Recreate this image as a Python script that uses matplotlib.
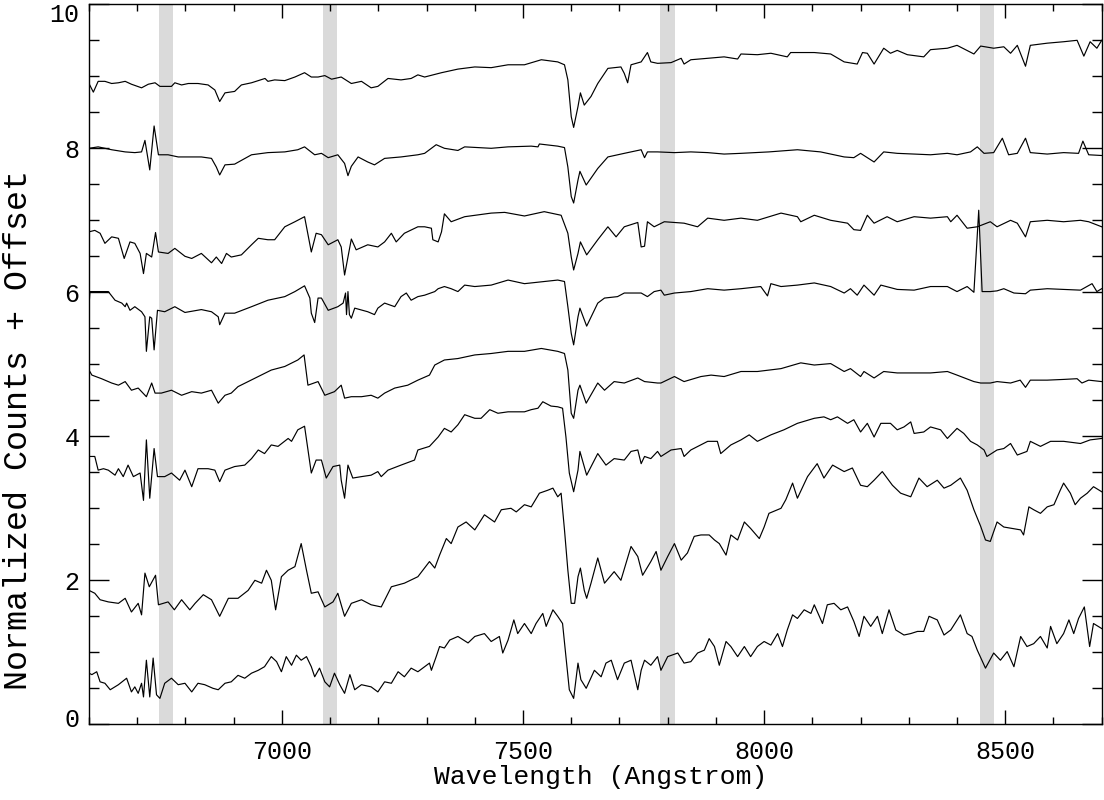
import matplotlib
matplotlib.use('Agg')
import matplotlib.pyplot as plt
import matplotlib.transforms as mtransforms
from matplotlib.ticker import MultipleLocator

# spectra, top to bottom (wavelength in Angstrom, normalized counts + offset)
wl_1 = [6600, 6609, 6619, 6633, 6647, 6661, 6675, 6688, 6709, 6723, 6737, 6747, 6771, 6778, 6792,
        6806, 6826, 6847, 6861, 6871, 6882, 6902, 6916, 6937, 6951, 6965, 6971, 6985, 7006, 7027,
        7047, 7061, 7075, 7089, 7103, 7123, 7144, 7165, 7185, 7199, 7220, 7247, 7268, 7282, 7296,
        7331, 7365, 7400, 7434, 7469, 7503, 7538, 7572, 7586, 7593, 7600, 7605, 7614, 7619, 7627,
        7641, 7655, 7676, 7703, 7710, 7717, 7724, 7745, 7758, 7765, 7779, 7807, 7828, 7834, 7848,
        7883, 7917, 7945, 7952, 7986, 8014, 8048, 8055, 8104, 8138, 8166, 8193, 8204, 8214, 8228,
        8248, 8262, 8276, 8297, 8331, 8345, 8380, 8400, 8435, 8449, 8476, 8497, 8511, 8525, 8542,
        8552, 8587, 8621, 8649, 8663, 8676, 8690, 8700]
fl_1 = [8.90, 8.78, 8.93, 8.93, 8.90, 8.91, 8.93, 8.89, 8.84, 8.89, 8.91, 8.86, 8.86, 8.91, 8.88,
        8.90, 8.90, 8.88, 8.81, 8.65, 8.77, 8.79, 8.88, 8.91, 8.94, 8.97, 8.93, 8.95, 8.94, 8.99,
        9.05, 8.99, 8.99, 9.01, 8.96, 8.99, 8.90, 8.93, 8.84, 8.86, 8.97, 8.95, 8.97, 9.02, 8.99,
        9.05, 9.10, 9.13, 9.12, 9.16, 9.16, 9.23, 9.20, 9.16, 8.95, 8.44, 8.29, 8.58, 8.77, 8.60,
        8.72, 8.90, 9.11, 9.13, 9.04, 8.91, 9.16, 9.20, 9.33, 9.20, 9.18, 9.19, 9.25, 9.17, 9.23,
        9.25, 9.27, 9.24, 9.31, 9.30, 9.32, 9.27, 9.33, 9.33, 9.31, 9.20, 9.17, 9.33, 9.32, 9.17,
        9.39, 9.32, 9.36, 9.30, 9.27, 9.37, 9.39, 9.43, 9.31, 9.42, 9.39, 9.41, 9.32, 9.43, 9.14,
        9.43, 9.46, 9.48, 9.50, 9.28, 9.48, 9.39, 9.50]

wl_2 = [6600, 6619, 6647, 6675, 6695, 6709, 6716, 6726, 6735, 6744, 6764, 6785, 6833, 6854, 6864,
        6871, 6882, 6902, 6937, 6971, 7006, 7033, 7047, 7068, 7082, 7096, 7116, 7130, 7137, 7144,
        7158, 7178, 7192, 7213, 7247, 7282, 7296, 7320, 7337, 7365, 7379, 7434, 7469, 7517, 7531,
        7534, 7572, 7586, 7593, 7600, 7605, 7614, 7618, 7631, 7655, 7676, 7710, 7745, 7752, 7758,
        7779, 7814, 7848, 7883, 7917, 7952, 8010, 8069, 8117, 8166, 8186, 8200, 8228, 8248, 8276,
        8311, 8345, 8380, 8400, 8428, 8442, 8456, 8476, 8494, 8507, 8525, 8542, 8552, 8587, 8621,
        8652, 8661, 8673, 8700]
fl_2 = [8.00, 8.02, 7.98, 7.95, 7.94, 7.95, 8.11, 7.70, 8.31, 7.91, 7.91, 7.88, 7.88, 7.86, 7.74,
        7.63, 7.77, 7.78, 7.91, 7.94, 7.95, 7.98, 8.02, 7.91, 7.93, 7.87, 7.91, 7.79, 7.62, 7.75,
        7.88, 7.81, 7.77, 7.86, 7.88, 7.91, 7.93, 8.05, 8.00, 7.97, 8.02, 8.00, 8.02, 8.03, 8.02,
        8.06, 8.03, 8.01, 7.74, 7.33, 7.24, 7.56, 7.68, 7.49, 7.72, 7.88, 7.93, 7.98, 7.87, 7.95,
        7.95, 7.94, 7.95, 7.94, 7.92, 7.93, 7.95, 7.98, 7.95, 7.88, 7.87, 7.93, 7.81, 7.95, 7.93,
        7.92, 7.91, 7.93, 7.91, 7.95, 8.02, 7.93, 7.94, 8.14, 7.91, 7.93, 8.14, 7.94, 7.92, 7.94,
        7.93, 8.10, 7.91, 7.90]

wl_3 = [6600, 6612, 6623, 6633, 6647, 6661, 6673, 6685, 6695, 6706, 6713, 6719, 6730, 6738, 6744,
        6764, 6778, 6799, 6813, 6833, 6854, 6864, 6875, 6885, 6895, 6916, 6937, 6951, 6971, 6985,
        7006, 7027, 7047, 7061, 7071, 7082, 7096, 7116, 7123, 7130, 7144, 7154, 7178, 7199, 7213,
        7227, 7237, 7254, 7282, 7296, 7310, 7313, 7324, 7331, 7337, 7351, 7379, 7434, 7462, 7503,
        7544, 7579, 7593, 7600, 7605, 7614, 7619, 7632, 7655, 7676, 7693, 7710, 7738, 7745, 7752,
        7758, 7772, 7793, 7834, 7862, 7883, 7917, 7952, 7986, 8035, 8069, 8076, 8104, 8138, 8173,
        8186, 8200, 8214, 8228, 8255, 8276, 8311, 8345, 8380, 8387, 8400, 8421, 8442, 8469, 8483,
        8511, 8525, 8542, 8552, 8587, 8621, 8656, 8673, 8700]
fl_3 = [6.84, 6.86, 6.82, 6.68, 6.77, 6.75, 6.47, 6.70, 6.68, 6.54, 6.26, 6.54, 6.49, 6.83, 6.56,
        6.54, 6.61, 6.50, 6.47, 6.54, 6.41, 6.49, 6.40, 6.54, 6.49, 6.52, 6.66, 6.75, 6.73, 6.73,
        6.91, 6.98, 7.05, 6.56, 6.82, 6.80, 6.66, 6.73, 6.63, 6.24, 6.74, 6.59, 6.66, 6.63, 6.70,
        6.82, 6.70, 6.82, 6.91, 6.91, 6.89, 6.73, 6.70, 6.84, 7.09, 6.98, 7.05, 7.10, 7.11, 7.06,
        7.12, 7.07, 6.82, 6.49, 6.31, 6.54, 6.70, 6.52, 6.73, 6.91, 6.77, 6.91, 6.97, 6.63, 6.64,
        6.98, 6.91, 6.98, 6.96, 6.91, 7.03, 7.00, 7.03, 7.00, 7.10, 7.05, 6.98, 7.07, 7.00, 6.96,
        6.87, 6.86, 7.07, 6.96, 7.05, 6.98, 7.05, 7.03, 7.05, 6.98, 7.07, 6.89, 6.91, 6.98, 6.91,
        7.00, 6.96, 6.77, 6.98, 7.00, 6.98, 7.00, 6.98, 6.91]

wl_4 = [6599, 6602, 6619, 6640, 6654, 6668, 6675, 6678, 6685, 6695, 6709, 6716, 6719, 6726, 6730,
        6735, 6742, 6757, 6778, 6799, 6833, 6854, 6868, 6871, 6882, 6902, 6937, 6971, 7006, 7027,
        7047, 7058, 7061, 7068, 7075, 7082, 7096, 7116, 7127, 7132, 7134, 7137, 7140, 7144, 7151,
        7178, 7192, 7199, 7213, 7234, 7247, 7258, 7268, 7282, 7296, 7317, 7324, 7337, 7351, 7365,
        7379, 7400, 7434, 7469, 7503, 7572, 7586, 7593, 7600, 7605, 7614, 7618, 7632, 7655, 7669,
        7696, 7710, 7745, 7758, 7772, 7786, 7793, 7814, 7848, 7883, 7917, 7952, 7993, 8007, 8014,
        8035, 8069, 8104, 8138, 8166, 8179, 8193, 8207, 8228, 8242, 8276, 8311, 8345, 8380, 8400,
        8421, 8435, 8445, 8452, 8469, 8483, 8497, 8518, 8542, 8552, 8587, 8621, 8656, 8680, 8690,
        8700]
fl_4 = [5.71, 6.01, 6.01, 6.01, 5.89, 5.85, 5.80, 5.85, 5.75, 5.80, 5.73, 5.66, 5.18, 5.66, 5.64,
        5.20, 5.75, 5.73, 5.80, 5.72, 5.76, 5.73, 5.66, 5.55, 5.71, 5.71, 5.80, 5.89, 5.94, 6.01,
        6.09, 5.92, 5.71, 5.58, 5.92, 5.92, 5.75, 5.80, 5.85, 5.99, 5.69, 6.01, 5.69, 5.64, 5.78,
        5.73, 5.69, 5.78, 5.85, 5.80, 5.94, 5.99, 5.89, 5.94, 5.96, 6.01, 6.05, 6.08, 6.05, 6.01,
        6.10, 6.08, 6.10, 6.17, 6.12, 6.17, 6.15, 5.80, 5.43, 5.27, 5.66, 5.78, 5.53, 5.85, 5.92,
        5.94, 5.99, 5.99, 5.94, 6.01, 6.03, 5.96, 5.99, 6.01, 6.05, 6.03, 6.05, 6.08, 5.95, 6.12,
        6.08, 6.10, 6.13, 6.08, 5.99, 6.05, 5.96, 6.10, 5.96, 6.10, 6.04, 6.03, 6.08, 6.08, 6.01,
        6.08, 6.00, 7.14, 6.01, 6.01, 6.02, 6.05, 5.99, 5.98, 6.03, 6.05, 6.04, 6.03, 6.12, 6.01,
        6.05]

wl_5 = [6600, 6606, 6626, 6647, 6661, 6675, 6688, 6702, 6719, 6730, 6737, 6750, 6771, 6792, 6813,
        6833, 6854, 6868, 6882, 6895, 6909, 6930, 6951, 6978, 7006, 7033, 7046, 7054, 7075, 7089,
        7109, 7123, 7130, 7144, 7165, 7185, 7199, 7213, 7234, 7261, 7282, 7306, 7317, 7337, 7365,
        7400, 7434, 7469, 7503, 7538, 7572, 7586, 7593, 7600, 7605, 7614, 7618, 7631, 7655, 7669,
        7689, 7710, 7738, 7752, 7779, 7786, 7814, 7834, 7869, 7890, 7917, 7952, 7986, 8035, 8076,
        8104, 8138, 8166, 8179, 8200, 8207, 8228, 8248, 8276, 8311, 8345, 8380, 8400, 8435, 8449,
        8469, 8483, 8511, 8531, 8542, 8552, 8587, 8621, 8649, 8659, 8673, 8700]
fl_5 = [4.92, 4.85, 4.80, 4.74, 4.71, 4.76, 4.64, 4.67, 4.55, 4.74, 4.60, 4.60, 4.64, 4.57, 4.62,
        4.60, 4.64, 4.46, 4.57, 4.60, 4.69, 4.76, 4.83, 4.92, 4.97, 5.06, 5.13, 4.71, 4.76, 4.57,
        4.62, 4.71, 4.53, 4.55, 4.55, 4.57, 4.53, 4.60, 4.67, 4.71, 4.78, 4.85, 4.99, 5.06, 5.08,
        5.13, 5.15, 5.18, 5.18, 5.22, 5.18, 5.15, 4.92, 4.32, 4.25, 4.64, 4.71, 4.46, 4.74, 4.64,
        4.76, 4.74, 4.81, 4.76, 4.74, 4.74, 4.83, 4.76, 4.83, 4.85, 4.83, 4.90, 4.90, 4.94, 5.02,
        4.99, 5.01, 4.90, 4.94, 4.83, 4.90, 4.81, 4.90, 4.88, 4.88, 4.88, 4.90, 4.85, 4.76, 4.74,
        4.74, 4.76, 4.74, 4.78, 4.68, 4.78, 4.78, 4.79, 4.80, 4.74, 4.78, 4.76]

wl_6 = [6600, 6612, 6619, 6630, 6640, 6654, 6661, 6671, 6681, 6692, 6706, 6713, 6719, 6726, 6735,
        6742, 6757, 6771, 6788, 6799, 6813, 6826, 6847, 6861, 6871, 6882, 6902, 6923, 6937, 6951,
        6964, 6978, 6992, 7013, 7020, 7033, 7047, 7061, 7071, 7082, 7092, 7106, 7120, 7123, 7130,
        7137, 7147, 7165, 7185, 7199, 7206, 7220, 7247, 7275, 7282, 7306, 7324, 7337, 7351, 7365,
        7379, 7400, 7413, 7431, 7448, 7469, 7503, 7517, 7531, 7541, 7558, 7572, 7582, 7589, 7596,
        7605, 7614, 7618, 7632, 7655, 7672, 7689, 7710, 7724, 7738, 7745, 7752, 7765, 7779, 7786,
        7807, 7828, 7834, 7848, 7883, 7903, 7910, 7931, 7952, 7969, 7986, 8014, 8041, 8069, 8104,
        8124, 8138, 8152, 8173, 8186, 8200, 8214, 8228, 8242, 8262, 8276, 8290, 8304, 8311, 8331,
        8345, 8366, 8380, 8400, 8414, 8428, 8442, 8456, 8462, 8483, 8497, 8511, 8525, 8545, 8552,
        8573, 8594, 8621, 8656, 8676, 8700]
fl_6 = [3.72, 3.72, 3.53, 3.55, 3.53, 3.46, 3.55, 3.44, 3.60, 3.44, 3.49, 3.11, 3.95, 3.14, 3.83,
        3.44, 3.44, 3.49, 3.39, 3.53, 3.30, 3.55, 3.55, 3.53, 3.37, 3.53, 3.58, 3.60, 3.69, 3.81,
        3.76, 3.88, 3.86, 3.97, 3.93, 4.09, 4.14, 3.49, 3.67, 3.67, 3.42, 3.58, 3.60, 3.39, 3.14,
        3.60, 3.42, 3.44, 3.46, 3.51, 3.44, 3.53, 3.60, 3.67, 3.81, 3.86, 3.99, 4.11, 4.06, 4.16,
        4.30, 4.25, 4.25, 4.37, 4.32, 4.34, 4.34, 4.37, 4.39, 4.48, 4.42, 4.41, 4.39, 3.99, 3.49,
        3.23, 3.53, 3.79, 3.46, 3.76, 3.60, 3.69, 3.67, 3.79, 3.81, 3.62, 3.72, 3.69, 3.79, 3.72,
        3.81, 3.83, 3.72, 3.81, 3.93, 3.93, 3.76, 3.88, 3.95, 4.02, 3.93, 4.02, 4.09, 4.18, 4.25,
        4.27, 4.23, 4.27, 4.18, 4.23, 4.06, 4.18, 3.99, 4.18, 4.18, 4.09, 4.13, 4.20, 4.04, 4.06,
        4.13, 4.09, 3.97, 4.11, 4.04, 3.93, 3.88, 3.81, 3.72, 3.81, 3.83, 3.90, 3.74, 3.79, 3.93,
        3.86, 3.93, 3.93, 3.90, 3.95, 3.97]

wl_7 = [6600, 6612, 6623, 6640, 6661, 6675, 6688, 6702, 6709, 6716, 6725, 6738, 6744, 6764, 6777,
        6792, 6809, 6820, 6837, 6854, 6871, 6889, 6909, 6930, 6944, 6958, 6968, 6978, 6987, 6999,
        7013, 7027, 7040, 7051, 7061, 7075, 7089, 7106, 7116, 7130, 7144, 7165, 7185, 7206, 7227,
        7254, 7282, 7306, 7317, 7327, 7341, 7351, 7365, 7382, 7400, 7420, 7441, 7455, 7475, 7486,
        7503, 7517, 7534, 7551, 7562, 7572, 7579, 7586, 7593, 7600, 7607, 7614, 7619, 7627, 7632,
        7641, 7655, 7669, 7689, 7703, 7724, 7738, 7748, 7765, 7776, 7786, 7800, 7814, 7828, 7841,
        7855, 7869, 7886, 7897, 7907, 7921, 7931, 7945, 7959, 7972, 7990, 8000, 8010, 8035, 8045,
        8059, 8069, 8090, 8110, 8124, 8142, 8166, 8183, 8200, 8214, 8228, 8245, 8266, 8283, 8304,
        8321, 8338, 8359, 8373, 8387, 8407, 8421, 8435, 8449, 8459, 8469, 8483, 8497, 8514, 8532,
        8538, 8549, 8559, 8573, 8587, 8601, 8614, 8621, 8635, 8645, 8656, 8670, 8683, 8700]
fl_7 = [1.86, 1.82, 1.73, 1.70, 1.68, 1.75, 1.56, 1.68, 1.52, 2.10, 1.91, 2.07, 1.66, 1.70, 1.59,
        1.73, 1.59, 1.68, 1.80, 1.73, 1.50, 1.75, 1.75, 1.86, 2.00, 1.96, 2.14, 2.00, 1.59, 2.05,
        2.14, 2.19, 2.51, 2.14, 1.82, 1.84, 1.63, 1.70, 1.82, 1.50, 1.68, 1.73, 1.66, 1.63, 1.91,
        1.96, 2.05, 2.26, 2.17, 2.35, 2.58, 2.51, 2.74, 2.81, 2.70, 2.91, 2.81, 2.98, 3.00, 2.95,
        3.05, 3.02, 3.21, 3.25, 3.28, 3.16, 3.21, 2.70, 2.14, 1.68, 1.68, 2.05, 2.17, 1.86, 1.75,
        1.96, 2.31, 1.96, 2.12, 2.00, 2.47, 2.33, 2.07, 2.26, 2.40, 2.14, 2.33, 2.51, 2.28, 2.38,
        2.61, 2.63, 2.63, 2.56, 2.51, 2.35, 2.63, 2.56, 2.81, 2.72, 2.58, 2.74, 2.93, 3.00, 3.12,
        3.35, 3.14, 3.44, 3.62, 3.42, 3.60, 3.51, 3.56, 3.32, 3.30, 3.39, 3.51, 3.32, 3.21, 3.16,
        3.42, 3.30, 3.39, 3.28, 3.32, 3.42, 3.25, 2.98, 2.75, 2.56, 2.54, 2.81, 2.74, 2.72, 2.70,
        2.63, 3.02, 2.98, 2.93, 3.02, 3.05, 3.25, 3.35, 3.21, 3.05, 3.14, 3.21, 3.30, 3.23]

wl_8 = [6600, 6606, 6616, 6623, 6633, 6644, 6661, 6678, 6688, 6695, 6702, 6709, 6713, 6719, 6726,
        6733, 6740, 6747, 6757, 6771, 6785, 6799, 6813, 6826, 6840, 6857, 6868, 6882, 6895, 6909,
        6923, 6937, 6951, 6964, 6978, 6989, 6999, 7009, 7020, 7030, 7040, 7051, 7061, 7068, 7078,
        7089, 7099, 7109, 7120, 7130, 7141, 7151, 7165, 7185, 7199, 7213, 7227, 7241, 7254, 7268,
        7282, 7306, 7310, 7320, 7327, 7337, 7348, 7365, 7386, 7400, 7420, 7434, 7451, 7458, 7469,
        7481, 7489, 7503, 7517, 7527, 7541, 7548, 7562, 7572, 7582, 7589, 7596, 7605, 7614, 7620,
        7631, 7648, 7662, 7672, 7683, 7696, 7710, 7724, 7738, 7745, 7752, 7765, 7779, 7786, 7800,
        7821, 7834, 7848, 7862, 7876, 7886, 7897, 7907, 7921, 7931, 7945, 7959, 7972, 7986, 8000,
        8014, 8028, 8038, 8048, 8059, 8069, 8083, 8097, 8104, 8121, 8131, 8145, 8159, 8173, 8186,
        8197, 8207, 8221, 8235, 8245, 8259, 8273, 8290, 8304, 8318, 8331, 8342, 8359, 8373, 8387,
        8407, 8421, 8431, 8442, 8459, 8476, 8490, 8504, 8518, 8532, 8545, 8559, 8573, 8587, 8594,
        8607, 8621, 8632, 8642, 8652, 8664, 8675, 8683, 8700]
fl_8 = [0.71, 0.69, 0.73, 0.59, 0.57, 0.48, 0.55, 0.64, 0.45, 0.52, 0.43, 0.57, 0.38, 0.89, 0.38,
        0.92, 0.41, 0.36, 0.57, 0.64, 0.55, 0.57, 0.45, 0.57, 0.55, 0.50, 0.48, 0.57, 0.59, 0.68,
        0.64, 0.71, 0.75, 0.80, 0.94, 0.87, 0.73, 0.94, 0.82, 0.96, 0.89, 0.94, 0.80, 0.66, 0.78,
        0.59, 0.52, 0.71, 0.55, 0.43, 0.69, 0.48, 0.55, 0.52, 0.45, 0.59, 0.57, 0.73, 0.66, 0.78,
        0.73, 0.85, 0.75, 0.94, 1.08, 1.06, 1.17, 1.22, 1.13, 1.22, 1.26, 1.15, 1.22, 0.99, 1.17,
        1.45, 1.26, 1.40, 1.26, 1.40, 1.54, 1.36, 1.59, 1.50, 1.40, 0.94, 0.48, 0.36, 0.85, 0.62,
        0.50, 0.75, 0.66, 0.85, 0.89, 0.62, 0.85, 0.89, 0.48, 0.75, 0.89, 0.82, 0.94, 0.75, 0.94,
        0.99, 0.85, 0.87, 0.99, 1.03, 1.19, 1.08, 0.82, 1.15, 1.08, 0.94, 1.08, 0.94, 1.08, 1.15,
        1.10, 1.26, 1.08, 1.31, 1.52, 1.47, 1.59, 1.54, 1.66, 1.40, 1.66, 1.68, 1.59, 1.63, 1.43,
        1.22, 1.50, 1.36, 1.50, 1.26, 1.59, 1.31, 1.24, 1.26, 1.29, 1.29, 1.50, 1.45, 1.24, 1.31,
        1.52, 1.26, 1.22, 1.03, 0.78, 0.99, 0.89, 1.01, 0.80, 1.22, 1.08, 1.12, 1.22, 1.06, 1.36,
        1.12, 1.26, 1.45, 1.26, 1.47, 1.63, 1.08, 1.40, 1.33]

spectra = [(wl_1, fl_1), (wl_2, fl_2), (wl_3, fl_3), (wl_4, fl_4),
           (wl_5, fl_5), (wl_6, fl_6), (wl_7, fl_7), (wl_8, fl_8)]

# masked regions (centre wavelengths)
band_centres = [6760, 7100, 7800, 8462]
band_half = 15

font = 'Liberation Mono'

fig = plt.figure(figsize=(11.04, 8.0), dpi=100)
ax = fig.add_axes([89 / 1104, 75.7 / 800, 1012.7 / 1104, 720 / 800])

for c in band_centres:
    ax.axvspan(c - band_half, c + band_half, color='#dadada', lw=0, zorder=0)

for wl, fl in spectra:
    ax.plot(wl, fl, color='black', lw=0.85)

ax.set_xlim(6600, 8700)
ax.set_ylim(0, 10)
ax.xaxis.set_major_locator(MultipleLocator(500))
ax.xaxis.set_minor_locator(MultipleLocator(100))
ax.yaxis.set_major_locator(MultipleLocator(2))
ax.yaxis.set_minor_locator(MultipleLocator(0.5))

ax.tick_params(which='both', direction='in', top=True, right=True, width=1, colors='black')
ax.tick_params(axis='x', which='major', length=10, pad=11)
ax.tick_params(axis='x', which='minor', length=5)
ax.tick_params(axis='y', which='major', length=14.4, pad=7)
ax.tick_params(axis='y', which='minor', length=7)
for sp in ax.spines.values():
    sp.set_linewidth(1)

ax.set_xticks([7000, 7500, 8000, 8500])
ax.set_xticklabels(['7000', '7500', '8000', '8500'], family=font, fontsize=18)
ax.set_yticks([0, 2, 4, 6, 8, 10])
ax.set_yticklabels(['0', '2', '4', '6', '8', '10'], family=font, fontsize=18)

# nudge the end labels inside the axis range
ylabels = ax.get_yticklabels()
ylabels[0].set_transform(ylabels[0].get_transform() +
                         mtransforms.ScaledTranslation(0, 0.07, fig.dpi_scale_trans))
ylabels[-1].set_transform(ylabels[-1].get_transform() +
                          mtransforms.ScaledTranslation(0, -0.08, fig.dpi_scale_trans))

fig.text(601 / 1104, 1 - 777 / 800, 'Wavelength (Angstrom)', family=font, fontsize=19,
         ha='center', va='center')
fig.text(19 / 1104, 1 - 430 / 800, 'Normalized Counts + Offset', family=font, fontsize=24,
         ha='center', va='center', rotation=90)

fig.savefig('out.png', dpi=100)
